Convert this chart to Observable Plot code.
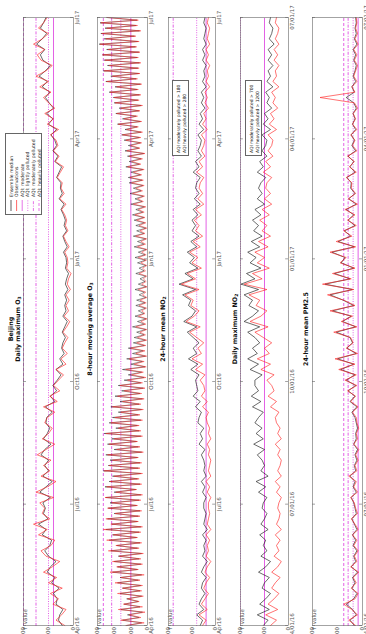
<!DOCTYPE html>
<html><head><meta charset="utf-8">
<script src="https://cdn.jsdelivr.net/npm/d3@7"></script>
<script src="https://cdn.jsdelivr.net/npm/@observablehq/plot@0.6"></script>
<style>
html,body{margin:0;padding:0;background:#fff;width:366px;height:634px;overflow:hidden;}
#land{position:absolute;left:0;top:0;width:634px;height:366px;transform-origin:0 0;transform:translate(0px,634px) rotate(-90deg);font-family:"DejaVu Sans",sans-serif;}
.title{position:absolute;left:0;width:610px;text-align:center;font-weight:bold;font-size:6.3px;line-height:7px;color:#111;}
.title sub{font-size:4.5px;vertical-align:-1px;line-height:0;}
.box{position:absolute;background:#fff;border:0.6px solid #666;font-size:4.4px;line-height:6px;color:#222;padding:0 2px;box-sizing:border-box;white-space:nowrap;}
</style></head><body><div id="land"></div>
<script>
// ---- time axis ----
const startDate = "2016-04-01";
const endDate = "2017-07-01";
const dailyStep = 4;   // days between read values (daily panels)
const movingStep = 2;  // days between read values (8-hour panel)
const tickDates = ["2016-04-01","2016-07-01","2016-10-01","2017-01-01","2017-04-01","2017-07-01"];
const tickLabelsShort = ["Apr16","Jul16","Oct16","Jan17","Apr17","Jul17"];
const tickLabelsNum = ["04/01/16","07/01/16","10/01/16","01/01/17","04/01/17","07/01/17"];

// ---- Panel 1: daily maximum O3 ----
const o3MaxObs = [70,140,95,60,165,120,185,90, 200,135,240,170,110,220,260,180, 150,280,210,320,190,250,230,
  270,160,300,210,140,260,190,240, 180,290,220,150,250,200,170,230, 210,150,240,130,190,110,160,
  120,80,140,60,100,50,90,70, 45,85,55,30,75,40,60, 35,60,25,50,40,20,55,45, 50,70,35,60,80,45,65,55,
  70,95,60,110,75,100, 90,130,105,80,145,115,160,125, 140,185,120,210,160,230,150,200,
  240,180,270,200,300,220,170,260, 290,230,320,250,200,280,240, 210];
const o3MaxModel = [90,120,110,85,140,130,160,115, 175,150,210,185,140,200,230,190, 175,250,220,280,205,240,225,
  245,185,270,220,170,245,200,230, 200,260,230,180,240,210,190,220, 215,170,225,150,185,135,165,
  130,100,140,85,110,75,95,85, 65,90,70,50,85,60,70, 55,70,45,65,55,40,65,55, 60,80,50,70,85,55,75,65,
  80,100,75,115,90,105, 100,135,115,95,150,125,165,135, 150,180,135,200,165,215,160,195,
  225,190,250,210,275,225,185,245, 265,230,295,250,215,265,240, 220];
const o3MaxLimits = [160,200,300,400];

// ---- Panel 2: 8-hour moving average O3 ----
const o38hObs = [
  130,20,160,40,110,15,175,30,145,50,120,25,180,35,150,
  30,195,45,160,20,225,55,185,30,210,40,170,25,235,50,190,
  35,245,60,205,40,265,30,220,55,250,45,195,35,240,60,
  215,40,255,30,190,65,245,35,225,50,200,30,260,45,230,
  35,210,55,240,25,185,45,230,60,200,30,250,40,175,50,220,
  30,195,45,160,25,210,40,150,20,180,35,140,15,165,30,
  120,10,95,25,130,8,80,20,110,5,70,15,100,10,65,
  5,60,12,45,4,70,10,40,3,55,15,35,6,50,8,
  45,4,30,10,55,3,35,8,25,5,50,12,30,4,40,6,
  55,8,35,3,60,12,40,5,70,15,45,4,50,10,65,
  15,75,20,55,10,85,25,60,18,90,30,70,20,95,
  25,105,35,85,20,120,40,95,30,110,15,125,45,100,35,130,
  40,150,30,125,55,175,35,140,60,185,45,160,30,195,50,
  200,40,225,55,185,35,245,60,210,45,260,50,230,40,255,
  55,270,45,235,65,285,50,250,70,275,40,245,60,280,55,
  240];
const o38hModel = [
  125,35,150,50,120,30,160,45,140,55,125,35,165,45,150,
  40,180,55,165,35,210,60,180,40,200,50,175,35,220,60,185,
  45,230,65,210,50,250,40,215,60,240,55,200,45,235,65,
  225,50,250,40,200,70,255,45,230,60,210,40,265,55,235,
  45,225,60,250,35,200,55,240,65,215,40,260,50,190,60,230,
  40,210,55,175,35,220,50,165,30,195,45,155,25,175,40,
  140,20,115,35,150,15,100,30,125,12,90,25,115,18,85,
  12,80,20,65,10,90,18,60,8,75,22,55,12,70,15,
  65,10,50,18,75,8,55,15,45,10,70,20,50,10,60,12,
  75,15,55,8,80,20,60,10,85,22,65,10,70,18,80,
  22,90,28,70,18,100,32,75,25,105,38,85,28,110,
  32,115,42,100,28,130,48,110,38,120,22,135,52,115,42,140,
  48,155,38,135,62,180,42,150,68,190,52,170,38,200,58,
  205,48,230,62,195,42,250,68,220,52,265,58,240,48,260,
  62,270,52,245,72,290,58,260,78,280,48,255,68,285,62,
  245];
const o38hLimits = [100,160,215,265];

// ---- Panel 3: 24-hour mean NO2 ----
const no2MeanObs = [55,40,70,35,60,45,30,50, 40,25,45,35,20,40,30,35, 25,40,20,35,30,25,30,
  30,20,35,25,40,20,30,25, 20,30,25,35,20,30,25,35, 40,30,55,35,60,45,50,
  65,45,85,55,100,60,75,50, 80,110,65,125,90,70,105, 95,130,70,145,85,120,60,100, 75,110,65,95,55,85,70,90,
  60,85,50,75,55,70, 65,50,80,55,70,45,60,50, 45,60,35,55,40,50,30,45,
  35,45,25,40,30,35,25,40, 30,40,25,35,30,25,35, 30];
const no2MeanModel = [65,55,80,50,70,60,45,60, 55,40,60,50,35,55,45,50, 40,55,35,50,45,40,50,
  50,40,55,45,60,40,50,45, 50,60,45,70,55,65,50,75, 70,60,85,65,95,75,80,
  85,70,105,75,115,80,95,70, 95,120,80,135,100,85,115, 105,140,85,155,95,130,75,110, 90,120,80,105,70,100,85,100,
  75,95,65,90,70,85, 80,65,95,70,85,60,75,65, 60,75,50,70,55,65,45,60,
  50,60,40,55,45,50,40,55, 45,55,40,50,45,40,50, 45];
const no2MeanLimits = [40,80,180,280];

// ---- Panel 4: daily maximum NO2 ----
const no2MaxObs = [75,50,95,45,85,60,40,70, 55,35,70,45,30,60,40,50, 35,55,30,50,40,35,45,
  40,30,50,35,55,30,45,35, 30,45,35,55,30,45,35,50, 55,40,75,50,85,60,70,
  90,60,115,75,130,80,100,70, 105,140,85,160,115,90,135, 120,165,90,185,110,150,80,130, 100,140,85,125,75,110,90,120,
  80,110,70,100,75,95, 90,70,105,75,95,65,85,70, 65,85,50,80,60,75,45,65,
  55,70,40,65,50,55,40,60, 45,60,40,55,45,40,55, 50];
const no2MaxModel = [105,85,130,80,120,95,75,110, 100,80,125,95,75,115,90,105, 95,120,85,115,100,90,110,
  105,90,125,95,135,85,115,100, 110,130,100,145,105,135,110,140, 125,105,150,115,155,125,140,
  140,110,160,125,170,130,150,120, 140,170,120,185,150,125,165, 150,185,125,198,140,175,115,160, 135,170,120,155,110,145,125,150,
  115,140,100,130,110,125, 115,95,130,105,120,90,110,95, 90,110,75,105,85,100,70,90,
  80,95,65,90,75,85,65,85, 70,85,60,80,70,65,80, 75];
const no2MaxLimits = [100,200,700,1200];

// ---- Panel 5: 24-hour mean PM2.5 ----
const pm25Obs = [55,110,40,85,150,60,35,90, 50,75,30,95,45,65,35,70, 45,80,35,60,90,40,55,
  65,95,40,70,50,110,45,60, 35,55,30,70,40,50,30,45, 50,80,35,95,55,120,45,
  140,50,190,60,220,40,130,75, 95,230,45,170,80,260,60, 150,280,70,320,90,240,60,180, 130,260,55,210,85,150,50,120,
  60,140,40,115,55,90, 85,130,50,105,65,120,45,80, 60,95,45,80,55,75,40,65,
  340,60,85,45,70,55,40,65, 45,70,35,60,40,55,45, 50];
const pm25Model = [65,100,50,80,130,70,45,85, 60,80,40,90,55,70,45,75, 55,80,45,65,85,50,60,
  70,90,50,75,60,100,55,65, 45,60,40,70,50,55,40,50, 60,85,45,100,60,115,55,
  130,60,175,70,200,50,125,80, 100,210,55,160,90,240,70, 155,260,80,300,100,225,70,170, 140,245,65,195,95,145,60,115,
  70,130,50,110,60,95, 90,125,60,100,70,115,55,85, 65,90,55,80,60,75,50,70,
  130,65,85,55,75,60,50,70, 55,75,45,65,50,60,50, 55];
const pm25Limits = [35,75,115,150];

// ---- styling ----
const obsColor = "#ff2626";
const modelColor = "#1a1a1a";
const aqiColor = "#dc3ade";
const aqiDash = ["none","1,1.4","3,1.4,1,1.4","3,2"];
const legendLabels = ["Ensemble median","Observations","AQI: moderate","AQI: lightly polluted","AQI: moderately polluted","AQI: heavily polluted"];

const t0 = new Date(startDate), t1 = new Date(endDate);
function series(values, step) {
  return values.map((v, i) => ({date: d3.utcDay.offset(t0, i * step), value: v}));
}

const panels = [
  {title: "Beijing<br>Daily maximum O<sub>3</sub>", titleTop: 7, top: 23, h: 50, ymax: 400, yticks: [0,200,400], obs: o3MaxObs, model: o3MaxModel, step: dailyStep, sw: 0.65, limits: o3MaxLimits, labels: tickLabelsShort},
  {title: "8-hour moving average O<sub>3</sub>", titleTop: 86, top: 97, h: 50, ymax: 300, yticks: [0,100,200,300], obs: o38hObs, model: o38hModel, step: movingStep, sw: 0.5, limits: o38hLimits, labels: tickLabelsShort},
  {title: "24-hour mean NO<sub>2</sub>", titleTop: 159, top: 168, h: 47, ymax: 200, yticks: [0,100,200], obs: no2MeanObs, model: no2MeanModel, step: dailyStep, sw: 0.65, limits: no2MeanLimits, labels: tickLabelsShort},
  {title: "Daily maximum NO<sub>2</sub>", titleTop: 231, top: 240, h: 48, ymax: 200, yticks: [0,100,200], obs: no2MaxObs, model: no2MaxModel, step: dailyStep, sw: 0.65, limits: no2MaxLimits, labels: tickLabelsNum},
  {title: "24-hour mean PM2.5", titleTop: 302, top: 312, h: 50, ymax: 400, yticks: [0,200,400], obs: pm25Obs, model: pm25Model, step: dailyStep, sw: 0.65, limits: pm25Limits, labels: tickLabelsNum}
];

const land = document.getElementById("land");
const tickD = tickDates.map(d => new Date(d));

panels.forEach(p => {
  const labelMap = new Map(tickD.map((d, i) => [+d, p.labels[i]]));
  const lim = p.limits.map((v, k) => ({value: v, k})).filter(d => d.value <= p.ymax);
  const mt = 3, mb = 12;
  const tickLen = p.ymax * 0.06;
  const svg = Plot.plot({
    width: 634, height: p.h + mt + mb,
    marginLeft: 8, marginRight: 18, marginTop: mt, marginBottom: mb,
    style: {background: "transparent", overflow: "visible", fontFamily: "DejaVu Sans, sans-serif", fontSize: "6px", color: "#444"},
    x: {type: "utc", domain: [t0, t1]},
    y: {domain: [0, p.ymax]},
    marks: [
      ...lim.map(d => Plot.ruleY([d.value], {stroke: aqiColor, strokeWidth: 0.8, strokeDasharray: aqiDash[d.k]})),
      Plot.lineY(series(p.model, p.step), {x: "date", y: "value", stroke: modelColor, strokeWidth: p.sw}),
      Plot.lineY(series(p.obs, p.step), {x: "date", y: "value", stroke: obsColor, strokeWidth: p.sw}),
      Plot.ruleX(tickD, {x: d => d, y1: 0, y2: tickLen, stroke: "#666", strokeWidth: 0.6}),
      Plot.ruleX(tickD, {x: d => d, y1: p.ymax - tickLen, y2: p.ymax, stroke: "#666", strokeWidth: 0.6}),
      Plot.frame({stroke: "#666", strokeWidth: 0.6}),
      Plot.axisX(tickD, {tickSize: 0, tickPadding: 2, tickFormat: d => labelMap.get(+d), fontSize: 5.5, fill: "#555"}),
      Plot.axisY(p.yticks, {tickSize: 0, tickPadding: 1.5, fontSize: 5.5, fill: "#555"})
    ]
  });
  svg.style.position = "absolute";
  svg.style.left = "0px";
  svg.style.top = (p.top - mt) + "px";
  land.appendChild(svg);
  const t = document.createElement("div");
  t.className = "title";
  t.style.top = p.titleTop + "px";
  t.innerHTML = p.title;
  land.appendChild(t);
});

// legend (panel 1)
const lg = document.createElement("div");
lg.className = "box";
Object.assign(lg.style, {left: "419px", top: "5px", width: "82px", height: "37px", padding: "2px 2px"});
const ls = d3.create("svg").attr("width", 78).attr("height", 34);
const legendStyles = [
  {c: modelColor, d: "none"}, {c: obsColor, d: "none"},
  {c: aqiColor, d: aqiDash[0]}, {c: aqiColor, d: aqiDash[1]}, {c: aqiColor, d: aqiDash[2]}, {c: aqiColor, d: aqiDash[3]}
];
legendLabels.forEach((lab, i) => {
  const y = 3 + i * 5.6;
  ls.append("line").attr("x1", 1).attr("x2", 12).attr("y1", y).attr("y2", y)
    .attr("stroke", legendStyles[i].c).attr("stroke-width", 0.7).attr("stroke-dasharray", legendStyles[i].d);
  ls.append("text").attr("x", 15).attr("y", y + 1.6).attr("font-size", 4.6).attr("fill", "#222")
    .attr("font-family", "DejaVu Sans, sans-serif").text(lab);
});
lg.appendChild(ls.node());
land.appendChild(lg);

// NO2 notes
const notes = [
  {top: 172, lines: ["AQI moderately polluted > " + no2MeanLimits[2], "AQI heavily polluted > " + no2MeanLimits[3]]},
  {top: 245, lines: ["AQI moderately polluted > " + no2MaxLimits[2], "AQI heavily polluted > " + no2MaxLimits[3]]}
];
notes.forEach(n => {
  const b = document.createElement("div");
  b.className = "box";
  Object.assign(b.style, {left: "478px", top: n.top + "px", width: "76px", height: "17px", paddingTop: "2.5px"});
  b.innerHTML = n.lines.join("<br>");
  land.appendChild(b);
});
</script></body></html>
